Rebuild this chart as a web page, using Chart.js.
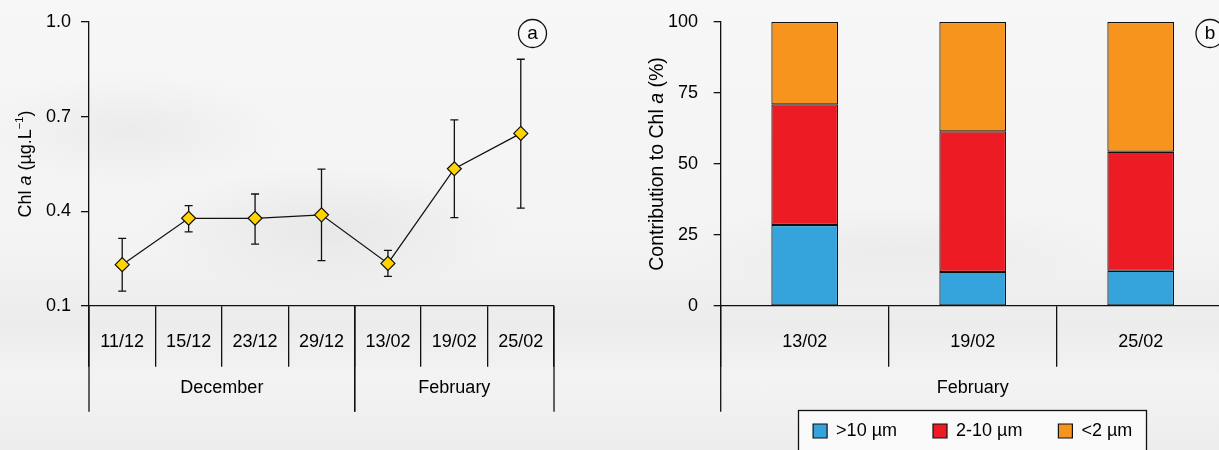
<!DOCTYPE html>
<html><head><meta charset="utf-8">
<script src="https://cdn.jsdelivr.net/npm/chart.js@4.4.1/dist/chart.umd.min.js"></script>
<style>
html,body{margin:0;padding:0;}
body{width:1219px;height:450px;overflow:hidden;position:relative;
background:
 radial-gradient(ellipse 260px 90px at 330px 230px, rgba(222,222,222,.55), rgba(222,222,222,0) 70%),
 radial-gradient(ellipse 220px 80px at 130px 130px, rgba(226,226,226,.5), rgba(226,226,226,0) 70%),
 radial-gradient(ellipse 320px 60px at 900px 250px, rgba(228,228,228,.5), rgba(228,228,228,0) 70%),
 linear-gradient(180deg, #f7f7f7 0%, #f3f3f3 55%, #ececec 72%, #f3f3f3 84%, #ededed 100%);}
#c1{position:absolute;left:0;top:0;}
#c2{position:absolute;left:610px;top:0;}
</style></head><body>
<canvas id="c1" width="610" height="450"></canvas>
<canvas id="c2" width="640" height="450"></canvas>
<script>
// ---- data (panel a) ----
const dates = ['11/12','15/12','23/12','29/12','13/02','19/02','25/02'];
const dateMonths = ['December','December','December','December','February','February','February'];
const chlMean  = [0.231,0.378,0.378,0.389,0.235,0.535,0.647];
const chlUpper = [0.314,0.418,0.455,0.534,0.276,0.690,0.882];
const chlLower = [0.147,0.335,0.296,0.244,0.194,0.380,0.410];
const chlTicks = [0.1,0.4,0.7,1.0];
// ---- data (panel b) ----
const fracDates = ['13/02','19/02','25/02'];
const fracMonths = ['February','February','February'];
const fracLabels = ['>10 \u00B5m','2-10 \u00B5m','<2 \u00B5m'];
const fracLarge = [28.5,12.0,12.4];
const fracMid   = [42.5,49.5,41.9];
const fracSmall = [29.0,38.5,45.7];
const pctTicks = [0,25,50,75,100];

const FONT = "'Liberation Sans', Arial, Helvetica, sans-serif";
const LINE = '#111';
const LW = 1.3;
Chart.defaults.font.family = FONT;
Chart.defaults.font.size = 18;
Chart.defaults.color = '#000';

function monthGroups(months){
  return {id:'monthGroups', afterDraw(chart){
    const x = chart.scales.x, ctx = chart.ctx;
    const n = chart.data.labels.length, w = (x.right - x.left) / n;
    const edge = i => x.left + i * w;
    ctx.save();
    ctx.strokeStyle = LINE; ctx.lineWidth = LW;
    ctx.font = '18px ' + FONT; ctx.fillStyle = '#000';
    ctx.textAlign = 'center'; ctx.textBaseline = 'middle';
    let start = 0;
    for (let i = 1; i <= n; i++) {
      if (i === n || months[i] !== months[start]) {
        [start, i].forEach(b => {
          const px = edge(b);
          ctx.beginPath(); ctx.moveTo(px, x.top); ctx.lineTo(px, x.top + 105.7); ctx.stroke();
        });
        ctx.fillText(months[start], (edge(start) + edge(i)) / 2, x.top + 82);
        start = i;
      }
    }
    ctx.restore();
  }};
}

const errorBars = {id:'errorBars', beforeDatasetsDraw(chart){
  const ctx = chart.ctx, x = chart.scales.x, y = chart.scales.y, cap = 4;
  ctx.save(); ctx.strokeStyle = LINE; ctx.lineWidth = LW;
  chlUpper.forEach((u, i) => {
    const px = x.getPixelForValue(i), yt = y.getPixelForValue(u), yb = y.getPixelForValue(chlLower[i]);
    ctx.beginPath();
    ctx.moveTo(px, yt); ctx.lineTo(px, yb);
    ctx.moveTo(px - cap, yt); ctx.lineTo(px + cap, yt);
    ctx.moveTo(px - cap, yb); ctx.lineTo(px + cap, yb);
    ctx.stroke();
  });
  ctx.restore();
}};

function axisTitle(parts, baselineX, size){
  return {id:'axisTitle', afterDraw(chart){
    const ctx = chart.ctx, a = chart.chartArea;
    const fontFor = p => (p.italic ? 'italic ' : '') + (p.sup ? size * 0.62 : size) + 'px ' + FONT;
    ctx.save();
    ctx.translate(baselineX, (a.top + a.bottom) / 2);
    ctx.rotate(-Math.PI / 2);
    let total = 0;
    parts.forEach(p => { ctx.font = fontFor(p); total += ctx.measureText(p.t).width; });
    let cx = -total / 2;
    ctx.textBaseline = 'alphabetic'; ctx.textAlign = 'left'; ctx.fillStyle = '#000';
    parts.forEach(p => {
      ctx.font = fontFor(p);
      ctx.fillText(p.t, cx, p.sup ? -size * 0.42 : 0);
      cx += ctx.measureText(p.t).width;
    });
    ctx.restore();
  }};
}

function panelLabel(text, dx, cy){
  return {id:'panelLabel', afterDraw(chart){
    const ctx = chart.ctx, cx = chart.chartArea.right + dx;
    ctx.save();
    ctx.beginPath(); ctx.arc(cx, cy, 14, 0, Math.PI * 2);
    ctx.fillStyle = '#f9f9f9'; ctx.fill();
    ctx.strokeStyle = LINE; ctx.lineWidth = LW; ctx.stroke();
    ctx.fillStyle = '#000'; ctx.font = '19px ' + FONT;
    ctx.textAlign = 'center'; ctx.textBaseline = 'middle';
    ctx.fillText(text, cx, cy);
    ctx.restore();
  }};
}

function legendGeom(chart){
  const lg = chart.legend, o = lg.options.labels;
  const ctx = chart.ctx;
  ctx.save(); ctx.font = Chart.helpers.toFont(o.font).string;
  let w = 0;
  lg.legendItems.forEach((it, i) => {
    w += o.boxWidth + o.font.size / 2 + ctx.measureText(it.text).width + (i ? o.padding : 0);
  });
  ctx.restore();
  const cx = (lg.left + lg.right) / 2;
  return {x: Math.round(cx - w / 2 - 15) + 0.5, y: Math.round(lg.top + o.padding - 12) + 0.5, w: Math.round(w + 29), h: 80};
}
const legendFrame = {id:'legendFrame',
  beforeDraw(chart){
    const g = legendGeom(chart), ctx = chart.ctx;
    ctx.save(); ctx.fillStyle = 'rgba(250,250,250,0.85)'; ctx.fillRect(g.x, g.y, g.w, g.h); ctx.restore();
  },
  afterDraw(chart){
    const g = legendGeom(chart), ctx = chart.ctx;
    ctx.save(); ctx.strokeStyle = LINE; ctx.lineWidth = LW; ctx.strokeRect(g.x, g.y, g.w, g.h); ctx.restore();
  }
};

const xGrid = {offset:true, drawOnChartArea:false, drawTicks:true, tickLength:60.7, color:LINE, lineWidth:LW};
const xTicks = {padding:-35.5, maxRotation:0, minRotation:0, autoSkip:false, color:'#000', font:{size:18}};

// ---- panel a ----
new Chart(document.getElementById('c1'), {
  type:'line',
  data:{labels:dates, datasets:[{
    data:chlMean, borderColor:LINE, borderWidth:LW, tension:0,
    pointStyle:'rectRot', pointRadius:7, pointHoverRadius:7,
    pointBackgroundColor:'#ffd400', pointBorderColor:LINE, pointBorderWidth:1.2
  }]},
  options:{
    responsive:false, animation:false, devicePixelRatio:1,
    layout:{padding:{left:0, right:56, top:22, bottom:0}},
    plugins:{legend:{display:false}, tooltip:{enabled:false}},
    scales:{
      x:{type:'category', offset:true, grid:xGrid, border:{color:LINE, width:LW}, ticks:xTicks,
         afterFit(a){ a.height = 144; }},
      y:{type:'linear', min:0.1, max:1.0,
         afterBuildTicks(a){ a.ticks = chlTicks.map(v => ({value:v})); },
         ticks:{callback:v => Number(v).toFixed(1), padding:10, color:'#000', font:{size:18}},
         grid:{drawOnChartArea:false, drawTicks:true, tickLength:8, color:LINE, lineWidth:LW},
         border:{color:LINE, width:LW},
         afterFit(a){ a.width = 89; a.paddingTop = 10; }}
    }
  },
  plugins:[errorBars, monthGroups(dateMonths),
    axisTitle([{t:'Chl '},{t:'a', italic:true},{t:' (\u00B5g.L'},{t:'\u22121', sup:true},{t:')'}], 31, 18),
    panelLabel('a', -21.5, 33.5)]
});

// ---- panel b ----
const barStyle = {borderColor:LINE, borderWidth:1.2, borderSkipped:false, barPercentage:0.397, categoryPercentage:1};
new Chart(document.getElementById('c2'), {
  type:'bar',
  data:{labels:fracDates, datasets:[
    Object.assign({label:fracLabels[0], data:fracLarge, backgroundColor:'#35a4dc'}, barStyle),
    Object.assign({label:fracLabels[1], data:fracMid,   backgroundColor:'#ed1c24'}, barStyle),
    Object.assign({label:fracLabels[2], data:fracSmall, backgroundColor:'#f7941e'}, barStyle)
  ]},
  options:{
    responsive:false, animation:false, devicePixelRatio:1,
    layout:{padding:{left:0, right:25.3, top:22, bottom:0}},
    plugins:{
      legend:{display:true, position:'bottom', fullSize:false,
        labels:{boxWidth:14, boxHeight:14, padding:36, color:'#000', font:{size:18, family:FONT}}},
      tooltip:{enabled:false}
    },
    scales:{
      x:{stacked:true, offset:true, grid:xGrid, border:{color:LINE, width:LW}, ticks:xTicks,
         afterFit(a){ a.height = 80; }},
      y:{stacked:true, min:0, max:100,
         afterBuildTicks(a){ a.ticks = pctTicks.map(v => ({value:v})); },
         ticks:{padding:15.7, color:'#000', font:{size:18}},
         grid:{drawOnChartArea:false, drawTicks:true, tickLength:7, color:LINE, lineWidth:LW},
         border:{color:LINE, width:LW},
         afterFit(a){ a.width = 110.7; a.paddingTop = 10; a.paddingBottom = 10; }}
    }
  },
  plugins:[monthGroups(fracMonths), legendFrame,
    axisTitle([{t:'Contribution to Chl '},{t:'a', italic:true},{t:' (%)'}], 53, 19.5),
    panelLabel('b', -14.7, 33.5)]
});
</script>
</body></html>
